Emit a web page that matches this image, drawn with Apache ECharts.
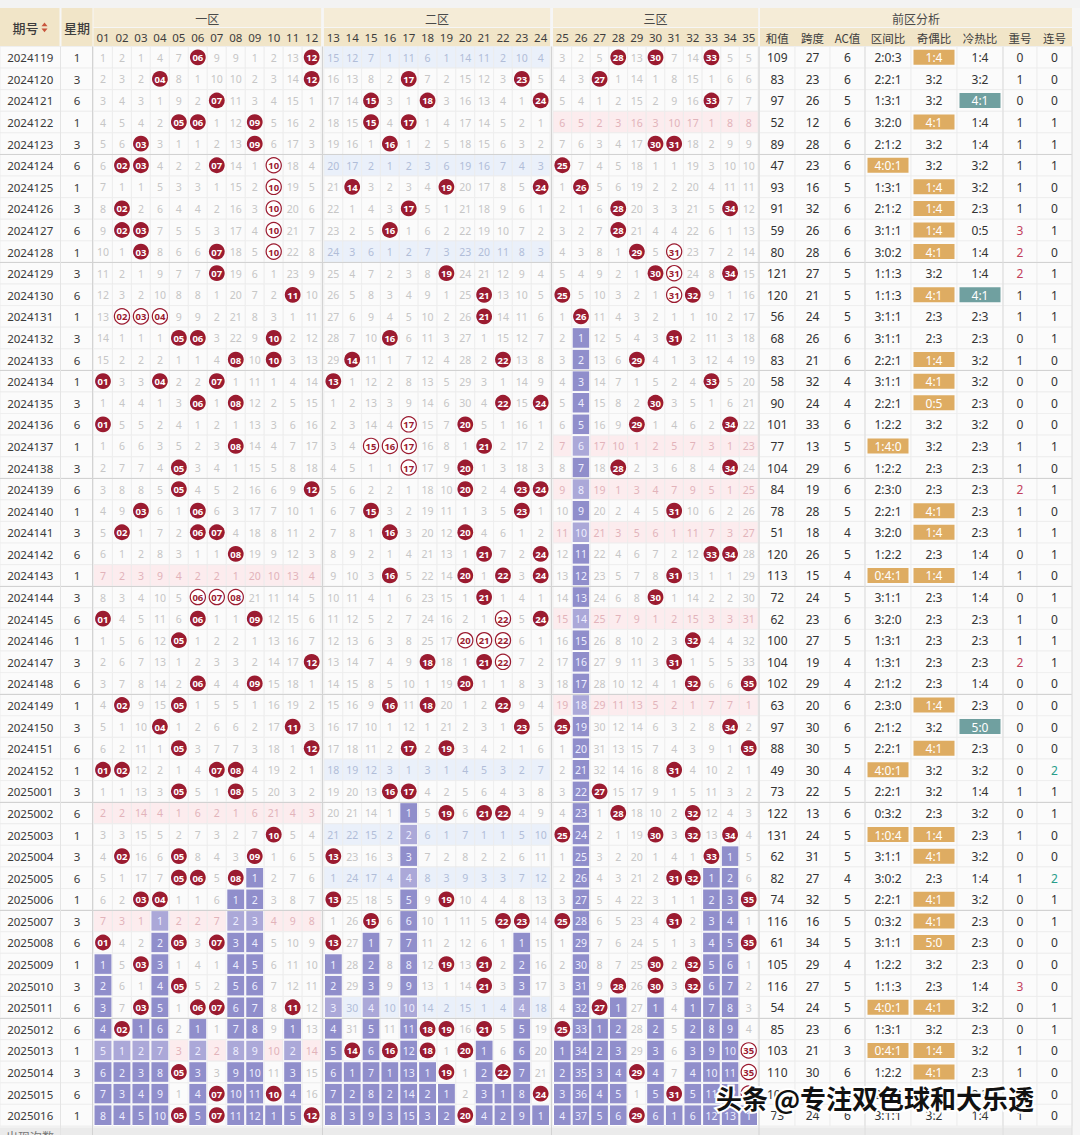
<!DOCTYPE html>
<html lang="zh">
<head>
<meta charset="utf-8">
<title>大乐透前区走势</title>
<script src="https://cdn.jsdelivr.net/npm/echarts@6.0.0/dist/echarts.min.js"></script>
<style>
html,body{margin:0;padding:0;background:#f6f6f6;}
#chart{width:1080px;height:1135px;}
</style>
</head>
<body>
<div id="chart"></div>
<script>
// ================= DATA =================
const periods = ['2024119','2024120','2024121','2024122','2024123','2024124','2024125','2024126','2024127','2024128',
  '2024129','2024130','2024131','2024132','2024133','2024134','2024135','2024136','2024137','2024138',
  '2024139','2024140','2024141','2024142','2024143','2024144','2024145','2024146','2024147','2024148',
  '2024149','2024150','2024151','2024152','2025001','2025002','2025003','2025004','2025005','2025006',
  '2025007','2025008','2025009','2025010','2025011','2025012','2025013','2025014','2025015','2025016'];

const weekdays = [1,3,6,1,3,6,1,3,6,1, 3,6,1,3,6,1,3,6,1,3, 6,1,3,6,1,3,6,1,3,6, 1,3,6,1,3,6,1,3,6,1, 3,6,1,3,6,6,1,3,6,1];

// winning front-zone numbers of each draw
const draws = [
  [6,12,28,30,33],[4,12,17,23,27],[7,15,18,24,33],[5,6,9,15,17],[3,9,16,30,31],
  [2,3,7,10,25],[10,14,19,24,26],[2,10,17,28,34],[2,3,10,16,28],[3,7,10,29,31],
  [7,19,30,31,34],[11,21,25,31,32],[2,3,4,21,26],[5,6,10,16,31],[8,10,14,22,29],
  [1,4,7,13,33],[6,8,22,24,30],[1,17,20,29,34],[8,15,16,17,21],[5,17,20,28,34],
  [5,12,20,23,24],[3,6,15,23,31],[2,6,7,16,20],[8,21,24,33,34],[16,20,22,24,31],
  [6,7,8,21,30],[1,6,9,22,24],[5,20,21,22,32],[12,18,21,22,31],[6,9,20,32,35],
  [2,5,16,18,22],[4,11,23,25,34],[5,12,17,19,35],[1,2,7,8,31],[5,8,16,17,27],
  [19,21,22,28,32],[10,25,30,32,34],[2,5,9,13,33],[5,6,8,31,32],[3,4,13,19,35],
  [15,22,23,25,31],[1,5,7,13,35],[3,19,21,30,32],[5,21,28,30,32],[3,6,7,11,27],
  [2,18,19,21,25],[14,16,18,20,35],[5,19,22,29,35],[7,10,24,31,35],[5,7,12,20,29]
];

// omission values shown in the first row (2024119); 0 = drawn in that row
const firstRowMiss = [1,2,1,4,7,0,9,9,1,2,13,0, 15,12,7,1,11,6,1,14,11,2,10,4, 3,2,5,0,13,0,7,14,0,5,5];

// hits drawn as hollow balls ("period-number")
const hollowHits = ['2024124-10','2024125-10','2024126-10','2024127-10','2024128-10','2024128-31','2024129-31','2024130-31',
  '2024131-2','2024131-3','2024131-4','2024136-17','2024137-15','2024137-16','2024137-17','2024138-17',
  '2024144-6','2024144-7','2024144-8','2024145-22','2024146-20','2024146-21','2024146-22','2024147-22',
  '2025013-35','2025014-35','2025015-35'];

const sums = [109,83,97,52,89,47,93,91,59,80, 121,120,56,68,83,58,90,101,77,104, 84,78,51,120,113,72,62,100,104,102,
  63,97,88,49,73,122,131,62,82,74, 116,61,105,116,54,85,103,110,107,73];
const spans = [27,23,26,12,28,23,16,32,26,28, 27,21,24,26,21,32,24,33,13,29, 19,28,18,26,15,24,23,27,19,29,
  20,30,30,30,22,13,24,31,27,32, 16,34,29,27,24,23,21,30,28,24];
const acValues = [6,6,5,6,6,6,5,6,6,6, 5,5,5,6,6,4,4,6,5,6, 6,5,4,5,4,5,6,5,4,4,
  6,6,5,4,5,6,5,5,4,5, 5,5,4,5,5,6,3,6,6,6];
const zoneRatios = ['2:0:3','2:2:1','1:3:1','3:2:0','2:1:2','4:0:1','1:3:1','2:1:2','3:1:1','3:0:2',
  '1:1:3','1:1:3','3:1:1','3:1:1','2:2:1','3:1:1','2:2:1','1:2:2','1:4:0','1:2:2',
  '2:3:0','2:2:1','3:2:0','1:2:2','0:4:1','3:1:1','3:2:0','1:3:1','1:3:1','2:1:2',
  '2:3:0','2:1:2','2:2:1','4:0:1','2:2:1','0:3:2','1:0:4','3:1:1','3:0:2','2:2:1',
  '0:3:2','3:1:1','1:2:2','1:1:3','4:0:1','1:3:1','0:4:1','1:2:2','2:1:2','3:1:1'];
const oddEvenRatios = ['1:4','3:2','3:2','4:1','3:2','3:2','1:4','1:4','1:4','4:1',
  '3:2','4:1','2:3','2:3','1:4','4:1','0:5','3:2','3:2','2:3',
  '2:3','4:1','1:4','2:3','1:4','2:3','2:3','2:3','2:3','2:3',
  '1:4','3:2','4:1','3:2','3:2','2:3','1:4','4:1','2:3','4:1',
  '4:1','5:0','3:2','2:3','4:1','3:2','1:4','4:1','3:2','3:2'];
const hotColdRatios = ['1:4','3:2','4:1','1:4','1:4','3:2','3:2','2:3','0:5','1:4',
  '1:4','4:1','2:3','2:3','3:2','3:2','2:3','3:2','2:3','2:3',
  '2:3','2:3','2:3','1:4','1:4','1:4','2:3','2:3','2:3','1:4',
  '2:3','5:0','2:3','3:2','1:4','3:2','2:3','3:2','1:4','3:2',
  '2:3','2:3','2:3','1:4','3:2','2:3','3:2','2:3','2:3','1:4'];
const repeatCounts = [0,1,0,1,1,1,1,1,3,2, 2,1,1,0,1,0,0,0,1,1, 2,1,1,0,1,0,1,1,2,0,
  0,0,0,0,1,0,1,0,1,0, 0,0,0,3,0,0,1,1,1,1];
const consecutiveCounts = [0,0,0,1,1,1,0,0,1,0, 1,1,1,1,0,0,0,0,1,0, 1,0,1,1,0,1,0,1,1,0,
  0,0,0,2,1,1,0,0,2,1, 1,0,0,0,1,1,0,0,0,0];

const numberLabels = ['01','02','03','04','05','06','07','08','09','10','11','12',
  '13','14','15','16','17','18','19','20','21','22','23','24',
  '25','26','27','28','29','30','31','32','33','34','35'];
const zoneTitles = ['一区','二区','三区','前区分析'];
const statTitles = ['和值','跨度','AC值','区间比','奇偶比','冷热比','重号','连号'];
const idTitles = ['期号','星期'];
const watermarkText = '头条 @专注双色球和大乐透';
const footerLabel = '出现次数';

// ================= LAYOUT / STYLE =================
const L = {
  zones: [{left:93.5,w:18.97,first:1,last:12},{left:323.9,w:18.85,first:13,last:24},{left:553,w:18.64,first:25,last:35}],
  idCol: {left:0, w:60.5}, wdCol: {left:60.5, w:33},
  statEdges: [759.5,795,830,865,911,957,1003,1037,1072],
  hTop: 8, hMid: 27.5, hBot: 46.5, bodyTop: 46.5, bodyBottom: 1126
};
const C = {
  ball:'#9b1b30', cell:'#fbfbfb', grid:'#ececec', miss:'#c6c6c6',
  pinkBg:'#fcecee', pinkTxt:'#e2b3ba', blueBg:'#eaf0fa', blueTxt:'#b1bdd8',
  purple:'#908ecb', purpleLight:'#aba8d8', orange:'#deac62', teal:'#70a0a0',
  header1:'#f5ecd7', header2:'#f1e5c8', headTxt:'#3d3d3d', txt:'#333333',
  repeatRed:'#c2405c', consecTeal:'#2a9d8a'
};
const NUM_FONT = '"Noto Sans", Roboto, sans-serif';
const CJK_FONT = '"Noto Sans CJK SC", "Noto Sans", sans-serif';

// ================= DERIVED TABLE =================
const N = periods.length;
const hollowSet = new Set(hollowHits);
const zoneOf = n => n <= 12 ? 0 : (n <= 24 ? 1 : 2);
const missTable = [];
for (let r = 0; r < N; r++) {
  const row = [];
  for (let n = 1; n <= 35; n++) {
    if (draws[r].includes(n)) row.push(0);
    else row.push(r === 0 ? firstRowMiss[n-1] : missTable[r-1][n-1] + 1);
  }
  missTable.push(row);
}
const lastHit = [];
for (let n = 1; n <= 35; n++) {
  let last = -1;
  for (let r = 0; r < N; r++) if (draws[r].includes(n)) last = r;
  lastHit.push(last);
}
const zoneCounts = draws.map(d => [0,1,2].map(z => d.filter(n => zoneOf(n) === z).length));

const cells = [];
for (let r = 0; r < N; r++) {
  cells.push({kind:'id', x:L.idCol.left, w:L.idCol.w, row:r, text:periods[r]});
  cells.push({kind:'wd', x:L.wdCol.left, w:L.wdCol.w, row:r, text:String(weekdays[r])});
  for (let n = 1; n <= 35; n++) {
    const zi = zoneOf(n), z = L.zones[zi];
    const empty = zoneCounts[r][zi] === 0;
    cells.push({
      kind:'num', x: z.left + (n - z.first) * z.w, w: z.w, row:r,
      label: numberLabels[n-1],
      hit: draws[r].includes(n),
      hollow: hollowSet.has(periods[r] + '-' + n),
      miss: missTable[r][n-1],
      purple: r > lastHit[n-1],
      tint: empty ? (zi === 1 ? 'blue' : 'pink') : null
    });
  }
  const stats = [sums[r], spans[r], acValues[r], zoneRatios[r], oddEvenRatios[r], hotColdRatios[r], repeatCounts[r], consecutiveCounts[r]];
  stats.forEach((v, s) => {
    let box = null, color = C.txt;
    if (s === 3 && Math.max(...String(v).split(':').map(Number)) >= 4) box = C.orange;
    if (s === 4 && ['4:1','1:4','5:0','0:5'].includes(v)) box = C.orange;
    if (s === 5 && Number(String(v).split(':')[0]) >= 4) box = C.teal;
    if (s === 6 && v >= 2) color = C.repeatRed;
    if (s === 7 && v >= 2) color = C.consecTeal;
    cells.push({kind:'stat', x:L.statEdges[s], w:L.statEdges[s+1]-L.statEdges[s], row:r, text:String(v), box, color});
  });
}

// ================= RENDER =================
function renderCell(params, api) {
  const c = cells[params.dataIndex];
  const row = api.value(1);
  const pL = api.coord([api.value(0), row]);
  const pR = api.coord([api.value(0) + c.w, row]);
  const h = api.size([0, 1])[1];
  const x = pL[0], w = pR[0] - pL[0], cy = pL[1], y = cy - h / 2, cx = x + w / 2;
  const ch = [];
  if (c.kind === 'num') {
    let bg = C.cell, tc = C.miss;
    if (c.tint === 'pink') { bg = C.pinkBg; tc = C.pinkTxt; }
    if (c.tint === 'blue') { bg = C.blueBg; tc = C.blueTxt; }
    ch.push({type:'rect', shape:{x, y, width:w, height:h}, style:{fill:bg, stroke:C.grid, lineWidth:0.8}});
    if (c.hit) {
      if (c.hollow) {
        ch.push({type:'circle', shape:{cx, cy, r:7.6}, style:{fill:'#ffffff', stroke:C.ball, lineWidth:1.2}});
        ch.push({type:'text', style:{text:c.label, x:cx, y:cy+0.5, align:'center', verticalAlign:'middle',
          fill:C.ball, font:'bold 9.5px ' + NUM_FONT}});
      } else {
        ch.push({type:'circle', shape:{cx, cy, r:7.9}, style:{fill:C.ball}});
        ch.push({type:'text', style:{text:c.label, x:cx, y:cy+0.5, align:'center', verticalAlign:'middle',
          fill:'#ffffff', font:'bold 9.5px ' + NUM_FONT}});
      }
    } else {
      if (c.purple) {
        ch.push({type:'rect', shape:{x:x+0.5, y:y+0.5, width:w-1, height:h-1},
          style:{fill: c.tint ? C.purpleLight : C.purple, stroke:'#ffffff', lineWidth:1}});
        tc = '#eeeeff';
      }
      ch.push({type:'text', style:{text:String(c.miss), x:cx, y:cy+0.5, align:'center', verticalAlign:'middle',
        fill:tc, font:'10.5px ' + NUM_FONT}});
    }
  } else if (c.kind === 'stat') {
    ch.push({type:'rect', shape:{x, y, width:w, height:h}, style:{fill:C.cell, stroke:C.grid, lineWidth:0.8}});
    let tc = c.color;
    if (c.box) {
      ch.push({type:'rect', shape:{x:cx-20.5, y:cy-7.5, width:41, height:15}, style:{fill:c.box}});
      tc = '#ffffff';
    }
    ch.push({type:'text', style:{text:c.text, x:cx, y:cy+0.5, align:'center', verticalAlign:'middle',
      fill:tc, font:'12px ' + NUM_FONT}});
  } else {
    ch.push({type:'rect', shape:{x, y, width:w, height:h}, style:{fill:C.cell, stroke:C.grid, lineWidth:0.8}});
    ch.push({type:'text', style:{text:c.text, x:cx, y:cy+0.5, align:'center', verticalAlign:'middle',
      fill:'#3a3a3a', font:'11.5px ' + NUM_FONT}});
  }
  return {type:'group', children:ch};
}

const groupRows = [];
for (let r = 4; r < N - 1; r += 5) groupRows.push([0, r]);
function renderSep(params, api) {
  const r = api.value(1);
  const p0 = api.coord([0, r]);
  const p1 = api.coord([L.statEdges[L.statEdges.length-1], r]);
  const h = api.size([0, 1])[1];
  const yy = Math.round(p0[1] + h / 2) + 0.5;
  return {type:'line', shape:{x1:p0[0], y1:yy, x2:p1[0], y2:yy}, style:{stroke:'#d2d2d2', lineWidth:1}};
}

// ---- header + decorations as graphic elements ----
const g = [];
g.push({type:'rect', shape:{x:0, y:0, width:1080, height:L.hTop}, style:{fill:'#f3f3f3'}, z:1});
g.push({type:'rect', shape:{x:0, y:L.hTop, width:59.5, height:L.hBot-L.hTop-0.5}, style:{fill:C.header2}, z:10});
g.push({type:'rect', shape:{x:61.5, y:L.hTop, width:31, height:L.hBot-L.hTop-0.5}, style:{fill:C.header2}, z:10});
g.push({type:'text', style:{text:idTitles[0], x:25.5, y:27.5, align:'center', verticalAlign:'middle', fill:C.headTxt, font:'500 13px ' + CJK_FONT}, z:11});
g.push({type:'polygon', shape:{points:[[41.5,26.2],[47.5,26.2],[44.5,22.4]]}, style:{fill:'#c8553d'}, z:11});
g.push({type:'polygon', shape:{points:[[41.5,28.4],[47.5,28.4],[44.5,32.2]]}, style:{fill:'#c8553d'}, z:11});
g.push({type:'text', style:{text:idTitles[1], x:77, y:27.5, align:'center', verticalAlign:'middle', fill:C.headTxt, font:'500 13px ' + CJK_FONT}, z:11});
const zoneSpans = [[93.5,321.1],[323.9,550.1],[553,758.1],[760,1072]];
zoneSpans.forEach((s, i) => {
  g.push({type:'rect', shape:{x:s[0], y:L.hTop, width:s[1]-s[0], height:L.hMid-L.hTop-0.5}, style:{fill:C.header1}, z:10});
  g.push({type:'rect', shape:{x:s[0], y:L.hMid+0.5, width:s[1]-s[0], height:L.hBot-L.hMid-1}, style:{fill:C.header2}, z:10});
  g.push({type:'text', style:{text:zoneTitles[i], x:(s[0]+s[1])/2, y:(L.hTop+L.hMid)/2+0.5, align:'center', verticalAlign:'middle',
    fill:'#4a4a4a', font:'12px ' + CJK_FONT}, z:11});
});
for (let n = 1; n <= 35; n++) {
  const z = L.zones[zoneOf(n)];
  const cx = z.left + (n - z.first + 0.5) * z.w;
  g.push({type:'text', style:{text:numberLabels[n-1], x:cx, y:(L.hMid+L.hBot)/2+0.5, align:'center', verticalAlign:'middle',
    fill:C.headTxt, font:'11.5px ' + NUM_FONT}, z:11});
}
statTitles.forEach((t, s) => {
  const cx = (L.statEdges[s] + L.statEdges[s+1]) / 2;
  g.push({type:'text', style:{text:t, x:cx, y:(L.hMid+L.hBot)/2+0.5, align:'center', verticalAlign:'middle',
    fill:C.headTxt, font:'11.5px ' + CJK_FONT}, z:11});
});
[[60.5,'#e4e4e4'],[92.5,'#d3d3d3'],[322.5,'#d3d3d3'],[551.5,'#d3d3d3'],[759,'#d3d3d3'],[865,'#dedede'],[1003,'#dedede'],[1072,'#dedede']].forEach(d => {
  g.push({type:'line', shape:{x1:d[0], y1:L.bodyTop, x2:d[0], y2:1135}, style:{stroke:d[1], lineWidth:1}, z:12});
});
g.push({type:'rect', shape:{x:0, y:1127.5, width:1072, height:8}, style:{fill:'#ebebeb'}, z:10});
g.push({type:'text', style:{text:footerLabel, x:30, y:1130, align:'center', verticalAlign:'top', fill:'#777', font:'12px ' + CJK_FONT}, z:11});
// watermark
g.push({type:'text', style:{text:watermarkText, x:716, y:1097, align:'left', verticalAlign:'middle',
  fill:'#111111', stroke:'#ffffff', lineWidth:4, strokeFirst:true, font:'bold 26px ' + CJK_FONT}, z:20});

const chart = echarts.init(document.getElementById('chart'), null, {renderer:'svg', width:1080, height:1135});
chart.setOption({
  animation:false,
  backgroundColor:'#f6f6f6',
  grid:{left:0, right:0, top:L.bodyTop, bottom:1135 - L.bodyBottom},
  xAxis:{type:'value', min:0, max:1080, show:false},
  yAxis:{type:'category', data:periods, inverse:true, show:false},
  series:[
    {type:'custom', name:'cells', renderItem:renderCell, data:cells.map(c => [c.x, c.row]), clip:false, silent:true, z:2},
    {type:'custom', name:'groups', renderItem:renderSep, data:groupRows, clip:false, silent:true, z:5}
  ],
  graphic:{elements:g}
});
</script>
</body>
</html>
